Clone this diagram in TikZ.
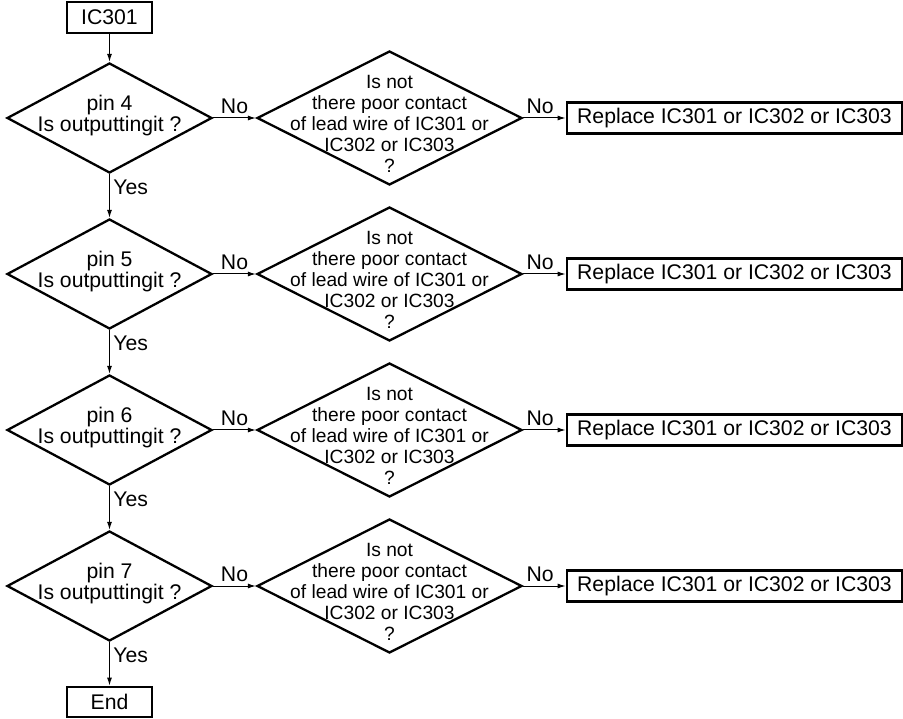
\documentclass[tikz,border=0pt]{standalone}
\usepackage{fontspec}
\setmainfont{Liberation Sans}
\usetikzlibrary{arrows.meta, positioning, shapes.geometric}
\tikzset{
  box/.style={
    draw,
    rectangle,
    line width=2.8pt,
    minimum height=31pt,
    inner sep=0pt
  },
  ask/.style={
    draw,
    diamond,
    line width=2.3pt,
    minimum width=205pt,
    minimum height=110pt,
    inner sep=0pt
  },
  check/.style={
    ask,
    minimum width=265pt,
    minimum height=134pt
  },
  txt/.style={
    align=center,
    inner sep=0pt
  },
  smalltxt/.style={
    txt,
    font=\fontsize{19.2}{21}\selectfont
  },
  arrow/.style={
    -{Latex[length=8pt,width=5pt]},
    line width=1pt
  }
}
\begin{document}
\begin{tikzpicture}[x=1pt, y=-1pt, font=\fontsize{21.2}{21}\selectfont]
\useasboundingbox (0,0) rectangle (903,719);

% start
\node[box, minimum width=85pt] (start) at (109.5,17.5) {IC301};

% pin questions
\node[ask] (p4) at (109.5,118) {};
\node[ask, below of=p4, node distance=156pt] (p5) {};
\node[ask, below of=p5, node distance=156pt] (p6) {};
\node[ask, below of=p6, node distance=156pt] (p7) {};
\node[txt] (p4t) at ([yshift=2.5pt]p4) {pin 4\\Is outputtingit ?};
\node[txt] (p5t) at ([yshift=2.5pt]p5) {pin 5\\Is outputtingit ?};
\node[txt] (p6t) at ([yshift=2.5pt]p6) {pin 6\\Is outputtingit ?};
\node[txt] (p7t) at ([yshift=2.5pt]p7) {pin 7\\Is outputtingit ?};

% contact checks
\node[check, right of=p4, node distance=280pt] (c4) {};
\node[check, right of=p5, node distance=280pt] (c5) {};
\node[check, right of=p6, node distance=280pt] (c6) {};
\node[check, right of=p7, node distance=280pt] (c7) {};
\node[smalltxt] (c4t) at ([yshift=-5.5pt]c4) {Is not\\there poor contact\\of lead wire of IC301 or\\IC302 or IC303\\?};
\node[smalltxt] (c5t) at ([yshift=-5.5pt]c5) {Is not\\there poor contact\\of lead wire of IC301 or\\IC302 or IC303\\?};
\node[smalltxt] (c6t) at ([yshift=-5.5pt]c6) {Is not\\there poor contact\\of lead wire of IC301 or\\IC302 or IC303\\?};
\node[smalltxt] (c7t) at ([yshift=-5.5pt]c7) {Is not\\there poor contact\\of lead wire of IC301 or\\IC302 or IC303\\?};

% replace boxes
\node[box, minimum width=335pt, right of=c4, node distance=345pt] (r4) {Replace IC301 or IC302 or IC303};
\node[box, minimum width=335pt, right of=c5, node distance=345pt] (r5) {Replace IC301 or IC302 or IC303};
\node[box, minimum width=335pt, right of=c6, node distance=345pt] (r6) {Replace IC301 or IC302 or IC303};
\node[box, minimum width=335pt, right of=c7, node distance=345pt] (r7) {Replace IC301 or IC302 or IC303};

% end
\node[box, minimum width=85pt, minimum height=30pt, below of=p7, node distance=116pt] (stop) {End};

% main column
\draw[arrow] (start) -- (p4);
\draw[arrow] (p4) -- node[right, pos=0.3] {Yes} (p5);
\draw[arrow] (p5) -- node[right, pos=0.3] {Yes} (p6);
\draw[arrow] (p6) -- node[right, pos=0.3] {Yes} (p7);
\draw[arrow] (p7) -- node[right, pos=0.3] {Yes} (stop);

% No branches
\draw[arrow] (p4) -- node[above] {No} (c4);
\draw[arrow] (p5) -- node[above] {No} (c5);
\draw[arrow] (p6) -- node[above] {No} (c6);
\draw[arrow] (p7) -- node[above] {No} (c7);
\draw[arrow] (c4) -- node[above, pos=0.4] {No} (r4);
\draw[arrow] (c5) -- node[above, pos=0.4] {No} (r5);
\draw[arrow] (c6) -- node[above, pos=0.4] {No} (r6);
\draw[arrow] (c7) -- node[above, pos=0.4] {No} (r7);

\end{tikzpicture}
\end{document}
